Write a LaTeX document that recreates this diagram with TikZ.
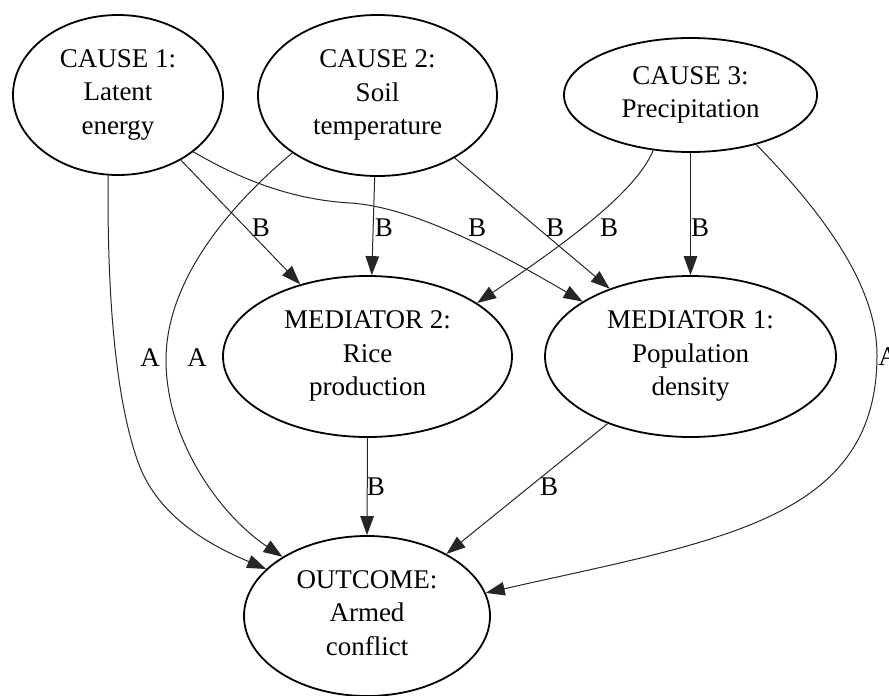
\documentclass[tikz,border=0pt]{standalone}
\usepackage{fontspec}
\setmainfont{Liberation Serif}
\usetikzlibrary{shapes.geometric,arrows.meta}
\begin{document}
\begin{tikzpicture}[x=1pt,y=-1pt,
  state/.style={ellipse, draw, line width=1.8pt, inner sep=0pt, align=center,
    font=\fontsize{27}{33.5}\selectfont,
    execute at begin node=\rule{0pt}{25pt},
    execute at end node=\rule[-6pt]{0pt}{6pt}},
  edge/.style={line width=1pt, draw=black!85, -{Triangle[length=19pt,width=13.5pt]}},
  lbl/.style={inner sep=0pt, font=\fontsize{27}{33.5}\selectfont}
]
\useasboundingbox (0,0) rectangle (889,696);

% causes
\node[state, minimum width=210pt, minimum height=160pt] (c1) at (118,95) {CAUSE 1:\\Latent\\energy};
\node[state, minimum width=239pt, minimum height=161pt] (c2) at (377.5,95.5) {CAUSE 2:\\Soil\\temperature};
\node[state, minimum width=253pt, minimum height=114pt] (c3) at (690.5,95) {CAUSE 3:\\Precipitation};

% mediators
\node[state, minimum width=289pt, minimum height=161pt] (m2) at (367.5,356.5) {MEDIATOR 2:\\Rice\\production};
\node[state, minimum width=291pt, minimum height=161pt] (m1) at (690.5,356.5) {MEDIATOR 1:\\Population\\density};

% outcome
\node[state, minimum width=246pt, minimum height=160pt] (out) at (367,616) {OUTCOME:\\Armed\\conflict};

% straight links
\draw[edge] (c1.-46.3) -- (m2.133.8);
\draw[edge] (c2.-92.5) -- (m2.87.5);
\draw[edge] (c2.-39.8) -- (m1.140.3);
\draw[edge] (c3.-90) -- (m1.90);
\draw[edge] (m2.-90) -- (out.90);
\draw[edge] (m1.-141.3) -- (out.38);

% curved links
\draw[edge] (c1.-37) .. controls (250,185) and (300,200) .. (350,203)
  .. controls (420,207) and (520,265) .. (m1.153.3);
\draw[edge] (c3.-124) .. controls (635,195) and (555,250) .. (m2.26);
\draw[edge] (c1.-97) .. controls (107,300) and (116,400) .. (138,462)
  .. controls (158,518) and (212,546) .. (out.155.3);
\draw[edge] (c2.-146.7) .. controls (230,205) and (166,280) .. (166,360)
  .. controls (166,440) and (220,515) .. (out.145.7);
\draw[edge] (c3.-37.8) .. controls (830,220) and (877,290) .. (877,355)
  .. controls (877,520) and (720,540) .. (out.11.5);

% link labels
\node[lbl] (lb1) at (261,228) {B};
\node[lbl] (lb2) at (384,228) {B};
\node[lbl] (lb3) at (477,228) {B};
\node[lbl] (lb4) at (555,228) {B};
\node[lbl] (lb5) at (609,228) {B};
\node[lbl] (lb6) at (700,228) {B};
\node[lbl] (lb7) at (376,487) {B};
\node[lbl] (lb8) at (549,487) {B};
\node[lbl] (la1) at (150,358) {A};
\node[lbl] (la2) at (197,358) {A};
\node[lbl] (la3) at (888,357) {A};
\end{tikzpicture}
\end{document}
